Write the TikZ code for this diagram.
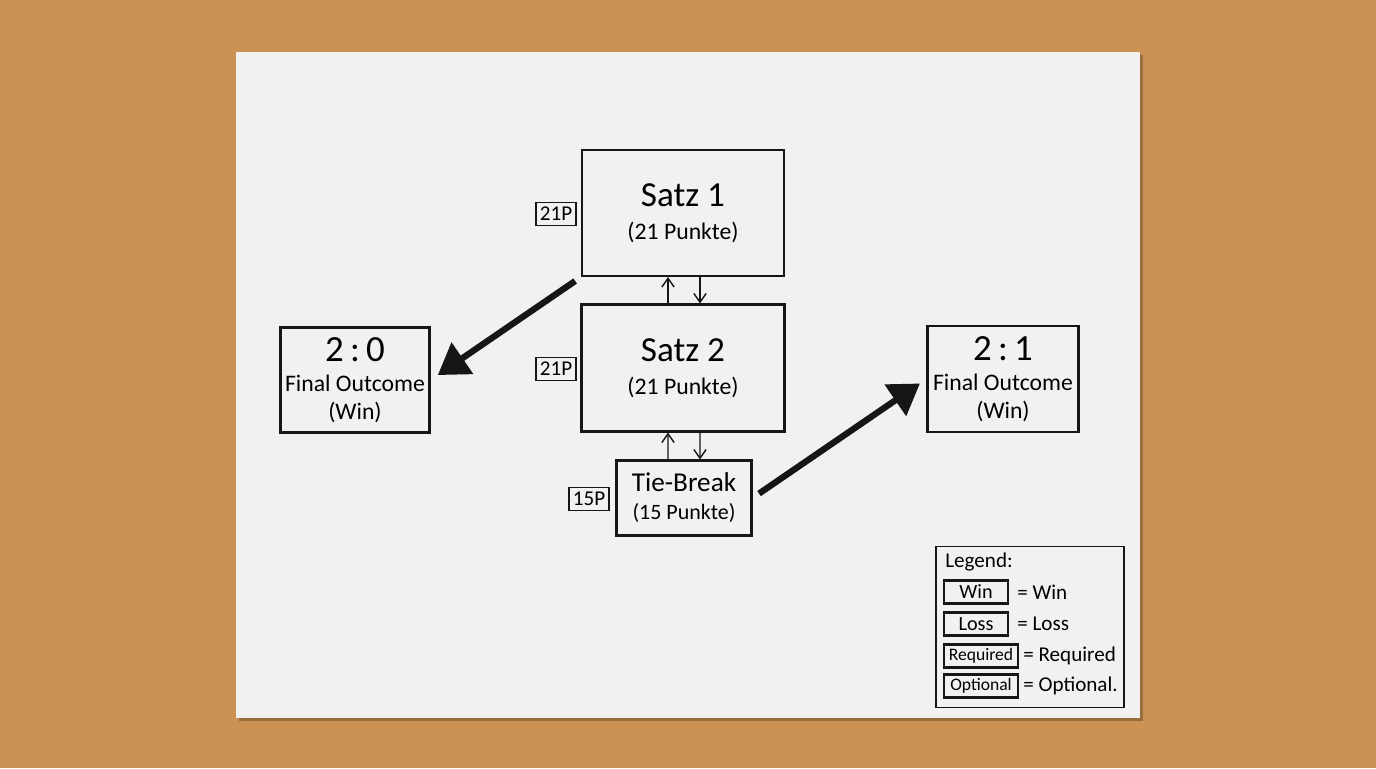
\documentclass[tikz,border=0pt]{standalone}
\usepackage{fontspec}
\setmainfont{Carlito}
\usetikzlibrary{arrows.meta}
\definecolor{wood}{RGB}{204,146,84}
\definecolor{paper}{RGB}{241,241,240}
\definecolor{ink}{RGB}{22,22,22}
\begin{document}
\begin{tikzpicture}[x=0.02cm, y=-0.02cm,
    box/.style={draw=ink, line width=1.2pt, align=center, inner sep=0pt},
    tag/.style={draw=ink, line width=0.9pt, minimum width=0.8cm, minimum height=0.46cm,
        inner sep=0pt, font=\fontsize{12}{12}\selectfont},
    keybox/.style={draw=ink, line width=1.3pt, minimum height=0.46cm, inner sep=0pt},
    bigarrow/.style={ink, line width=3.6pt, -{Triangle[length=17pt, width=21pt]}},
    smallarrow/.style={ink, line width=0.8pt, -{Straight Barb[length=5pt, width=7pt]}}]
    % Table and sheet of paper
    \fill[wood] (0,0) rectangle (1376,768);
    \fill[black, opacity=0.25] (239,55) rectangle (1143,721);
    \fill[paper] (236,52) rectangle (1140,718);

    % Sets
    \node[box, minimum width=4.04cm, minimum height=2.52cm, font=\fontsize{13.5}{19}\selectfont]
        (satzA) at (683,213) {{\fontsize{20}{19}\selectfont Satz 1}\\(21 Punkte)};
    \node[box, minimum width=4.06cm, minimum height=2.54cm, font=\fontsize{13.5}{19}\selectfont]
        (satzB) at (683,368) {{\fontsize{20}{19}\selectfont Satz 2}\\(21 Punkte)};
    \node[box, minimum width=2.7cm, minimum height=1.5cm, font=\fontsize{12.5}{16}\selectfont]
        (tiebreak) at (684,498) {{\fontsize{15.5}{16}\selectfont Tie-Break}\\(15 Punkte)};

    % Point tags
    \node[tag] (tagA) at (556,214) {21P};
    \node[tag] (tagB) at (556,369) {21P};
    \node[tag] (tagC) at (589,499) {15P};

    % Final outcomes
    \node[box, minimum width=2.98cm, minimum height=2.1cm, font=\fontsize{13.5}{16}\selectfont]
        (outA) at (355,380) {{\fontsize{21}{16}\selectfont 2\,:\,0}\\[1pt]Final Outcome\\(Win)};
    \node[box, minimum width=3.02cm, minimum height=2.12cm, font=\fontsize{13.5}{16}\selectfont]
        (outB) at (1003,379) {{\fontsize{21}{16}\selectfont 2\,:\,1}\\[1pt]Final Outcome\\(Win)};

    % Up and down between the sets
    \draw[smallarrow] ([xshift=-0.3cm]satzB.north) -- ([xshift=-0.3cm]satzA.south);
    \draw[smallarrow] ([xshift=0.34cm]satzA.south) -- ([xshift=0.34cm]satzB.north);
    \draw[smallarrow] ([xshift=-0.32cm]tiebreak.north) -- ([xshift=-0.3cm]satzB.south);
    \draw[smallarrow] ([xshift=0.34cm]satzB.south) -- ([xshift=0.32cm]tiebreak.north);

    % Results
    \draw[bigarrow, shorten <=4pt, shorten >=5pt] (satzA.south west) -- (outA.east);
    \draw[bigarrow, shorten <=4.5pt, shorten >=4.5pt] (tiebreak.east) -- (outB.west);

    % Legend
    \node[draw=ink, line width=1pt, minimum width=3.76cm, minimum height=3.22cm] (legend) at (1030,627) {};
    \node[anchor=west, inner sep=0pt, font=\fontsize{12}{13}\selectfont] (legTitle) at (945,562) {Legend:};
    \node[keybox, minimum width=1.28cm, font=\fontsize{11.5}{12}\selectfont] (keyWin) at (976,592) {Win};
    \node[keybox, minimum width=1.28cm, font=\fontsize{11.5}{12}\selectfont] (keyLoss) at (976,624) {Loss};
    \node[keybox, minimum width=1.48cm, font=\fontsize{10}{12}\selectfont] (keyReq) at (981,656) {Required};
    \node[keybox, minimum width=1.48cm, font=\fontsize{10}{12}\selectfont] (keyOpt) at (981,686) {Optional};
    \node[anchor=west, inner sep=0pt, font=\fontsize{12}{13}\selectfont] (txtWin) at (1017,592) {= Win};
    \node[anchor=west, inner sep=0pt, font=\fontsize{12}{13}\selectfont] (txtLoss) at (1017,624) {= Loss};
    \node[anchor=west, inner sep=0pt, font=\fontsize{12}{13}\selectfont] (txtReq) at (1023,656) {= Required};
    \node[anchor=west, inner sep=0pt, font=\fontsize{12}{13}\selectfont] (txtOpt) at (1023,686) {= Optional.};
\end{tikzpicture}
\end{document}
